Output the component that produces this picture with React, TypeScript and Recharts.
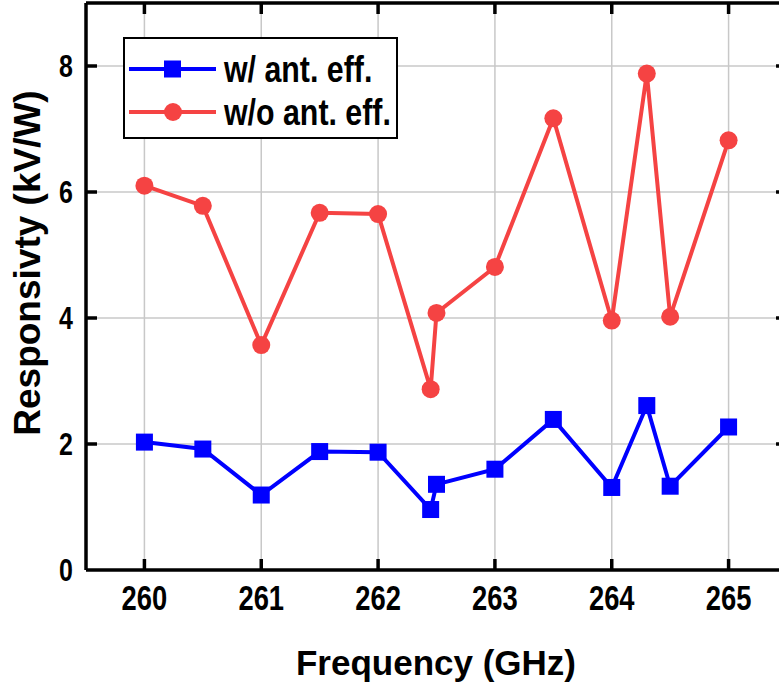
import { CartesianGrid, Line, LineChart, ReferenceLine, XAxis, YAxis } from "recharts";

// measured frequencies (GHz) and responsivity (kV/W)
const frequencies = [260, 260.5, 261, 261.5, 262, 262.45, 262.5, 263, 263.5, 264, 264.3, 264.5, 265];
const withAntEff = [2.03, 1.92, 1.19, 1.88, 1.87, 0.96, 1.36, 1.6, 2.39, 1.31, 2.61, 1.33, 2.27];
const withoutAntEff = [6.1, 5.78, 3.57, 5.67, 5.65, 2.87, 4.08, 4.81, 7.17, 3.96, 7.88, 4.02, 6.82];

const xTicks = [260, 261, 262, 263, 264, 265];
const yTicks = [0, 2, 4, 6, 8];
const legendNames = ["w/ ant. eff.", "w/o ant. eff."];

const X_DOMAIN: [number, number] = [259.5, 265.5];
const Y_DOMAIN: [number, number] = [0, 9];
// inward tick length, in axis units (about 11px each way)
const X_TICK_LEN = 0.094;
const Y_TICK_LEN = 0.175;

const BLUE = "#0000ff";
const RED = "#f54343";
const SANS = "'Liberation Sans', Arial, sans-serif";

const data = frequencies.map((f, i) => ({
  freq: f,
  withAnt: withAntEff[i],
  withoutAnt: withoutAntEff[i],
}));

// condensed bold labels: Arial Bold squeezed horizontally
const XTick = ({ x, y, payload }: any) => (
  <text
    transform={`translate(${x},${y}) scale(0.76,1)`}
    textAnchor="middle"
    dy="0.71em"
    fontFamily={SANS}
    fontWeight="bold"
    fontSize={36}
    fill="#000"
  >
    {payload.value}
  </text>
);

const YTick = ({ x, y, payload }: any) => (
  <text
    transform={`translate(${x},${y}) scale(0.78,1)`}
    textAnchor="end"
    dy="0.355em"
    fontFamily={SANS}
    fontWeight="bold"
    fontSize={32}
    fill="#000"
  >
    {payload.value}
  </text>
);

const SquareDot = (props: { cx?: number; cy?: number; index?: number }) => {
  const { cx, cy, index } = props;
  if (cx == null || cy == null) return null;
  return <rect key={`sq-${index}`} x={cx - 8.5} y={cy - 8.5} width={17} height={17} fill={BLUE} />;
};

const CircleDot = (props: { cx?: number; cy?: number; index?: number }) => {
  const { cx, cy, index } = props;
  if (cx == null || cy == null) return null;
  return <circle key={`ci-${index}`} cx={cx} cy={cy} r={9} fill={RED} />;
};

const LegendBox = () => (
  <div
    style={{
      position: "absolute",
      left: 123,
      top: 37,
      width: 271,
      height: 98,
      border: "2px solid #000",
      background: "#fff",
    }}
  >
    <svg width={271} height={98} style={{ display: "block" }}>
      <line x1={4} x2={91} y1={30} y2={30} stroke={BLUE} strokeWidth={4} />
      <rect x={39} y={21.5} width={17} height={17} fill={BLUE} />
      <line x1={4} x2={91} y1={73} y2={73} stroke={RED} strokeWidth={4} />
      <circle cx={48} cy={73} r={9} fill={RED} />
      {legendNames.map((name, i) => (
        <text
          key={name}
          transform={`translate(99,${43 + i * 43}) scale(0.82,1)`}
          fontFamily={SANS}
          fontWeight="bold"
          fontSize={37}
          fill="#000"
        >
          {name}
        </text>
      ))}
    </svg>
  </div>
);

// short black segments on all four sides of the frame, pointing inward
const frameTicks = [
  ...xTicks.map((t) => [
    { x: t, y: Y_DOMAIN[0] },
    { x: t, y: Y_DOMAIN[0] + Y_TICK_LEN },
  ]),
  ...xTicks.map((t) => [
    { x: t, y: Y_DOMAIN[1] - Y_TICK_LEN },
    { x: t, y: Y_DOMAIN[1] },
  ]),
  ...yTicks.slice(1).map((v) => [
    { x: X_DOMAIN[0], y: v },
    { x: X_DOMAIN[0] + X_TICK_LEN, y: v },
  ]),
  ...yTicks.slice(1).map((v) => [
    { x: X_DOMAIN[1] - X_TICK_LEN, y: v },
    { x: X_DOMAIN[1], y: v },
  ]),
];

export default function App() {
  return (
    <div style={{ position: "absolute", left: 0, top: 0, width: 779, height: 688, overflow: "hidden", background: "#fff" }}>
      <LineChart width={800} height={688} data={data} margin={{ top: 2, right: 12, left: 0, bottom: 0 }}>
        <CartesianGrid
          xAxisId="bottom"
          yAxisId="left"
          stroke="#c8c8c8"
          strokeWidth={1.5}
          verticalValues={xTicks}
          horizontalValues={[2, 4, 6, 8]}
        />
        <XAxis
          xAxisId="bottom"
          dataKey="freq"
          type="number"
          domain={X_DOMAIN}
          ticks={xTicks}
          allowDataOverflow
          height={118}
          axisLine={{ stroke: "#000", strokeWidth: 3.5 }}
          tickLine={false}
          tickSize={0}
          tickMargin={14}
          tick={<XTick />}
          label={() => (
            <text x={436} y={675} textAnchor="middle" fontFamily={SANS} fontWeight="bold" fontSize={35} fill="#000">
              Frequency (GHz)
            </text>
          )}
        />
        <XAxis
          xAxisId="top"
          orientation="top"
          dataKey="freq"
          type="number"
          domain={X_DOMAIN}
          ticks={xTicks}
          allowDataOverflow
          height={1}
          axisLine={{ stroke: "#000", strokeWidth: 3.5 }}
          tickLine={false}
          tick={false}
        />
        <YAxis
          yAxisId="left"
          type="number"
          domain={Y_DOMAIN}
          ticks={yTicks}
          allowDataOverflow
          width={86}
          axisLine={{ stroke: "#000", strokeWidth: 3.5 }}
          tickLine={false}
          tickSize={0}
          tickMargin={13}
          tick={<YTick />}
          label={() => (
            <text
              x={40}
              y={263}
              transform="rotate(-90 40 263)"
              textAnchor="middle"
              fontFamily={SANS}
              fontWeight="bold"
              fontSize={37}
              fill="#000"
            >
              Responsivty (kV/W)
            </text>
          )}
        />
        <YAxis
          yAxisId="right"
          orientation="right"
          type="number"
          domain={Y_DOMAIN}
          ticks={yTicks}
          allowDataOverflow
          width={1}
          axisLine={{ stroke: "#000", strokeWidth: 3.5 }}
          tickLine={false}
          tick={false}
        />
        {frameTicks.map((seg, i) => (
          <ReferenceLine
            key={`tick-${i}`}
            xAxisId="bottom"
            yAxisId="left"
            segment={seg}
            stroke="#000"
            strokeWidth={3.5}
            ifOverflow="visible"
          />
        ))}
        <Line
          xAxisId="bottom"
          yAxisId="left"
          dataKey="withAnt"
          name={legendNames[0]}
          type="linear"
          stroke={BLUE}
          strokeWidth={4}
          dot={SquareDot}
          activeDot={false}
          isAnimationActive={false}
        />
        <Line
          xAxisId="bottom"
          yAxisId="left"
          dataKey="withoutAnt"
          name={legendNames[1]}
          type="linear"
          stroke={RED}
          strokeWidth={4}
          dot={CircleDot}
          activeDot={false}
          isAnimationActive={false}
        />
      </LineChart>
      <LegendBox />
    </div>
  );
}
